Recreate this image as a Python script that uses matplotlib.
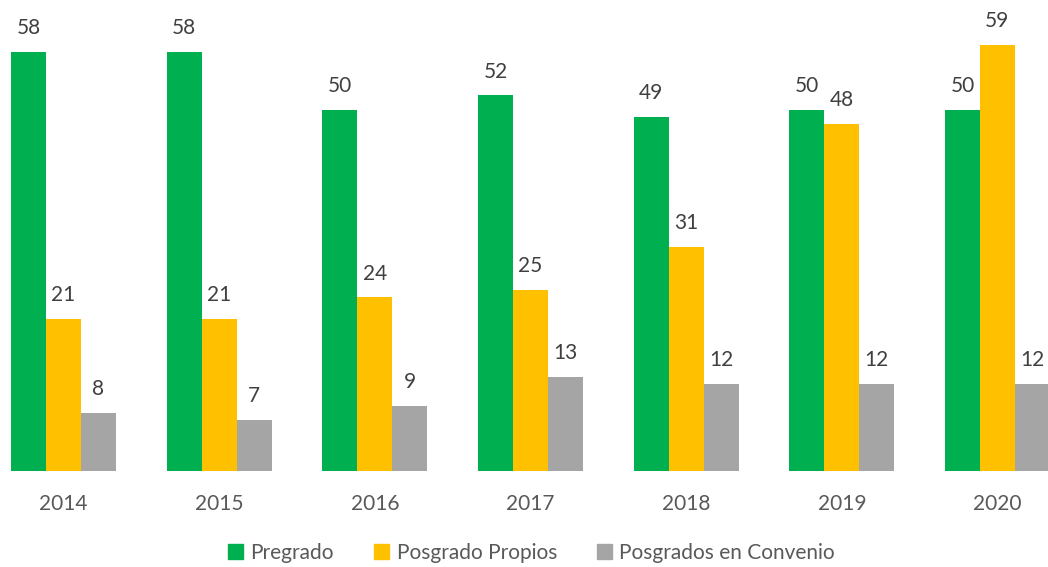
import matplotlib.pyplot as plt
import numpy as np
from matplotlib.patches import Patch

plt.rcParams.update({
    "font.family": ["Lato", "DejaVu Sans"],
    "font.size": 15,
})

years = ["2014", "2015", "2016", "2017", "2018", "2019", "2020"]
pregrado = [58, 58, 50, 52, 49, 50, 50]
posgrado_propios = [21, 21, 24, 25, 31, 48, 59]
posgrados_convenio = [8, 7, 9, 13, 12, 12, 12]

series = [
    ("Pregrado", pregrado, "#00B050"),
    ("Posgrado Propios", posgrado_propios, "#FFC000"),
    ("Posgrados en Convenio", posgrados_convenio, "#A5A5A5"),
]

fig = plt.figure(figsize=(10.48, 5.67), dpi=100)
ax = fig.add_axes([0.0, 0.1698, 1.0, 0.830])

x = np.arange(len(years))
width = 0.2248

for i, (name, vals, color) in enumerate(series):
    pos = x + (i - 1) * width
    bars = ax.bar(pos, vals, width=width, color=color, label=name, zorder=2)
    for b, v in zip(bars, vals):
        ax.annotate(str(v), (b.get_x() + b.get_width() / 2, b.get_height()),
                    xytext=(0, 10), textcoords="offset points",
                    ha="center", va="bottom", fontsize=15, color="#404040")

ax.set_xlim(-0.408, 6.325)
ax.set_ylim(0, 65.2)
ax.set_xticks(x)
ax.set_xticklabels(years, color="#595959", fontsize=15)
ax.tick_params(axis="x", length=0, pad=17)
ax.set_yticks([])
for s in ax.spines.values():
    s.set_visible(False)

handles = [Patch(color=c, label=n) for n, _, c in series]
fig.legend(handles=handles, loc="center", bbox_to_anchor=(0.507, 0.025),
           ncol=3, frameon=False, fontsize=15, handlelength=0.75, handleheight=0.75,
           handletextpad=0.35, columnspacing=1.9, labelcolor="#595959")

fig.savefig("out.png", dpi=100, facecolor="white")
plt.close(fig)
